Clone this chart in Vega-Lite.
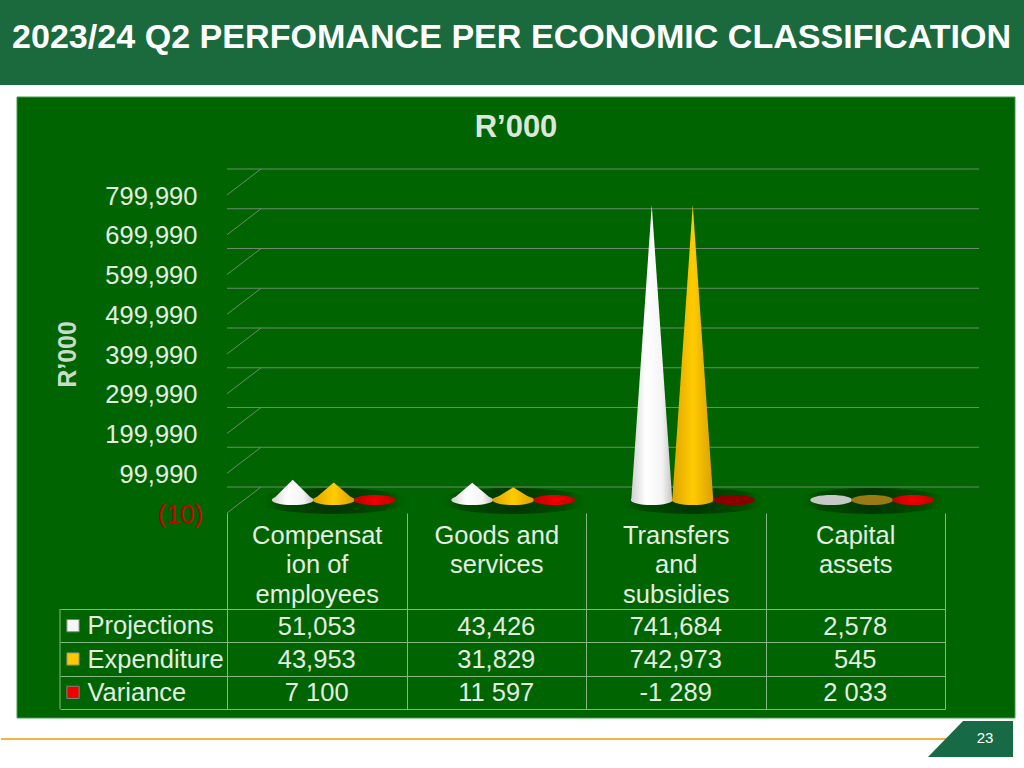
{
"$schema":"https://vega.github.io/schema/vega-lite/v6.json",
"padding":0,"autosize":{"type":"pad"},"background":"white","bounds":"flush","spacing":96,
"config":{"font":"Liberation Sans","view":{"stroke":null},"concat":{"spacing":96}},
"datasets":{
"ticks":[{"tick":-10},{"tick":99990},{"tick":199990},{"tick":299990},{"tick":399990},{"tick":499990},{"tick":599990},{"tick":699990},{"tick":799990}],
"cats":[{"category":"Compensation of employees"},{"category":"Goods and services"},{"category":"Transfers and subsidies"},{"category":"Capital assets"}],
"table":[
{"category":"Compensation of employees","series":"Projections","value":51053,"label":"51,053","slot":"2"},
{"category":"Compensation of employees","series":"Expenditure","value":43953,"label":"43,953","slot":"4"},
{"category":"Compensation of employees","series":"Variance","value":7100,"label":"7 100","slot":"6"},
{"category":"Goods and services","series":"Projections","value":43426,"label":"43,426","slot":"2"},
{"category":"Goods and services","series":"Expenditure","value":31829,"label":"31,829","slot":"4"},
{"category":"Goods and services","series":"Variance","value":11597,"label":"11 597","slot":"6"},
{"category":"Transfers and subsidies","series":"Projections","value":741684,"label":"741,684","slot":"2"},
{"category":"Transfers and subsidies","series":"Expenditure","value":742973,"label":"742,973","slot":"4"},
{"category":"Transfers and subsidies","series":"Variance","value":-1289,"label":"-1 289","slot":"6"},
{"category":"Capital assets","series":"Projections","value":2578,"label":"2,578","slot":"2"},
{"category":"Capital assets","series":"Expenditure","value":545,"label":"545","slot":"4"},
{"category":"Capital assets","series":"Variance","value":2033,"label":"2 033","slot":"6"}],
"cones":[
{"cone":"a","category":"Compensation of employees","series":"Projections","slot":"1","value":0},{"cone":"a","category":"Compensation of employees","series":"Projections","slot":"2","value":51053},{"cone":"a","category":"Compensation of employees","series":"Projections","slot":"3","value":0},
{"cone":"b","category":"Compensation of employees","series":"Expenditure","slot":"3","value":0},{"cone":"b","category":"Compensation of employees","series":"Expenditure","slot":"4","value":43953},{"cone":"b","category":"Compensation of employees","series":"Expenditure","slot":"5","value":0},
{"cone":"c","category":"Goods and services","series":"Projections","slot":"1","value":0},{"cone":"c","category":"Goods and services","series":"Projections","slot":"2","value":43426},{"cone":"c","category":"Goods and services","series":"Projections","slot":"3","value":0},
{"cone":"d","category":"Goods and services","series":"Expenditure","slot":"3","value":0},{"cone":"d","category":"Goods and services","series":"Expenditure","slot":"4","value":31829},{"cone":"d","category":"Goods and services","series":"Expenditure","slot":"5","value":0},
{"cone":"e","category":"Transfers and subsidies","series":"Projections","slot":"1","value":0},{"cone":"e","category":"Transfers and subsidies","series":"Projections","slot":"2","value":741684},{"cone":"e","category":"Transfers and subsidies","series":"Projections","slot":"3","value":0},
{"cone":"f","category":"Transfers and subsidies","series":"Expenditure","slot":"3","value":0},{"cone":"f","category":"Transfers and subsidies","series":"Expenditure","slot":"4","value":742973},{"cone":"f","category":"Transfers and subsidies","series":"Expenditure","slot":"5","value":0}]
},
"vconcat":[
{"width":718,"height":318,
"layer":[
{"data":{"values":[{}]},"mark":{"type":"rect","fill":"white"},"encoding":{"x":{"value":-227},"x2":{"value":797},"y":{"value":-195},"y2":{"value":573}}},
{"data":{"values":[{}]},"mark":{"type":"rect","fill":"#1b6a3d"},"encoding":{"x":{"value":-227},"x2":{"value":797},"y":{"value":-195},"y2":{"value":-110}}},
{"data":{"values":[{}]},"mark":{"type":"rect","fill":"#006400","stroke":"#3f9f4f","strokeWidth":1},"encoding":{"x":{"value":-210},"x2":{"value":788},"y":{"value":-98},"y2":{"value":523}}},
{"data":{"values":[{}]},"mark":{"type":"rule","stroke":"#f5b342","strokeWidth":2},"encoding":{"x":{"value":-226},"x2":{"value":720},"y":{"value":544},"y2":{"value":544}}},
{"data":{"values":[{}]},"mark":{"type":"point","filled":true,"fill":"#166b46","stroke":null,"opacity":1,"size":7225,"shape":"M-1,0.4235L-0.176,-0.4235L1,-0.4235L1,0.4235Z"},"encoding":{"x":{"value":743.5},"y":{"value":544}}},
{"data":{"values":[{"text":"23"}]},"mark":{"type":"text","color":"white","fontSize":15,"align":"center","baseline":"middle"},"encoding":{"x":{"value":758},"y":{"value":543},"text":{"field":"text"}}},
{"data":{"values":[{"text":"2023/24 Q2 PERFOMANCE PER ECONOMIC CLASSIFICATION"}]},"mark":{"type":"text","color":"white","fontSize":34.1,"fontWeight":"bold","align":"left","baseline":"middle"},"encoding":{"x":{"value":-215},"y":{"value":-157},"text":{"field":"text"}}},
{"data":{"values":[{"text":"R’000"}]},"mark":{"type":"text","color":"#dbe7db","fontSize":31,"fontWeight":"bold","align":"center","baseline":"middle"},"encoding":{"x":{"value":289},"y":{"value":-67},"text":{"field":"text"}}},
{"data":{"name":"ticks"},"mark":{"type":"rule","stroke":"#6f8a6f","strokeWidth":1,"xOffset":34,"yOffset":-26},
"encoding":{"y":{"field":"tick","type":"quantitative","scale":{"domain":[-10,799990],"nice":false,"zero":false},
"axis":{"values":[-10,99990,199990,299990,399990,499990,599990,699990,799990],"tickCount":9,"zindex":1,"grid":false,"domain":false,"ticks":false,"labelOverlap":false,"labelFontSize":25.5,"labelColor":"#e4eee2","labelPadding":30,"labelOffset":1,"labelExpr":"datum.value<0?'':format(datum.value,',')","title":"R’000","titleFontSize":25,"titleFontWeight":"bold","titleColor":"#c9dcc9","titlePadding":24}}}},
{"data":{"name":"ticks"},"transform":[{"filter":"datum.tick<0"}],"mark":{"type":"text","align":"right","baseline":"middle","fontSize":25.5,"color":"#c80000","dy":2,"clip":false},
"encoding":{"x":{"value":-24},"y":{"field":"tick","type":"quantitative"},"text":{"value":"(10)"}}},
{"data":{"name":"ticks"},"mark":{"type":"rule","stroke":"#6f8a6f","strokeWidth":1,"y2Offset":-26},
"encoding":{"x":{"value":0},"x2":{"value":34},"y":{"field":"tick","type":"quantitative"},"y2":{"field":"tick"}}},
{"data":{"name":"cats"},"mark":{"type":"point","filled":true,"stroke":null,"opacity":1,"size":23104,"shape":"M-1,0A1,0.17,0,1,0,1,0A1,0.17,0,1,0,-1,0Z","xOffset":17,"yOffset":-12,
"fill":{"gradient":"radial","stops":[{"offset":0,"color":"rgba(0,30,0,0.7)"},{"offset":0.7,"color":"rgba(0,45,0,0.45)"},{"offset":1,"color":"rgba(0,100,0,0)"}]}},
"encoding":{"x":{"field":"category","type":"nominal","sort":null,"scale":{"type":"band","domain":["Compensation of employees","Goods and services","Transfers and subsidies","Capital assets"],"paddingInner":0,"paddingOuter":0},
"axis":{"zindex":1,"title":null,"domain":false,"labelAngle":0,"labelFontSize":25.5,"labelColor":"#e4eee2","labelAlign":"center","labelBaseline":"top","tickBand":"extent","tickColor":"#86b886","tickSize":96,"labelPadding":-86,"labelLineHeight":29.5,"labelLimit":0,"labelOverlap":false,"labelFlush":false,
"labelExpr":"datum.label=='Compensation of employees'?['Compensat','ion of','employees']:datum.label=='Goods and services'?['Goods and','services']:datum.label=='Transfers and subsidies'?['Transfers','and','subsidies']:datum.label=='Capital assets'?['Capital','assets']:''"}},
"y":{"datum":0,"type":"quantitative"}}},
{"data":{"name":"table"},"mark":{"type":"point","filled":true,"stroke":null,"opacity":1,"size":1764,"shape":"M-1,0A1,0.24,0,1,0,1,0A1,0.24,0,1,0,-1,0Z","yOffset":-13},
"encoding":{"x":{"field":"category","type":"nominal"},"xOffset":{"field":"slot","type":"nominal","scale":{"type":"point","domain":["1","2","3","4","5","6","7"],"range":[45.25,168.25],"padding":0}},"y":{"datum":0,"type":"quantitative"},
"color":{"condition":[
{"test":"datum.series=='Variance'&&datum.value<0","value":"#8a0000"},
{"test":"datum.series=='Variance'","value":{"gradient":"radial","stops":[{"offset":0,"color":"#f00000"},{"offset":1,"color":"#c00000"}]}},
{"test":"datum.series=='Projections'&&datum.value<5000","value":"#c6c9c6"},
{"test":"datum.series=='Expenditure'&&datum.value<5000","value":"#9a7a12"},
{"test":"datum.series=='Projections'","value":{"gradient":"linear","x1":0,"x2":1,"y1":0,"y2":0,"stops":[{"offset":0,"color":"#d0d0d0"},{"offset":0.35,"color":"#ffffff"},{"offset":0.75,"color":"#f4f4f4"},{"offset":1,"color":"#c4c4c4"}]}}],
"value":{"gradient":"linear","x1":0,"x2":1,"y1":0,"y2":0,"stops":[{"offset":0,"color":"#e0a400"},{"offset":0.5,"color":"#ffcc00"},{"offset":1,"color":"#dca000"}]}}}},
{"data":{"name":"cones"},"transform":[{"filter":"datum.series=='Projections'"}],"mark":{"type":"area","line":false,"yOffset":-13,"y2Offset":-13,"color":{"gradient":"linear","x1":0,"x2":1,"y1":0,"y2":0,"stops":[{"offset":0,"color":"#d0d0d0"},{"offset":0.35,"color":"#ffffff"},{"offset":0.75,"color":"#f4f4f4"},{"offset":1,"color":"#c4c4c4"}]}},
"encoding":{"x":{"field":"category","type":"nominal"},"xOffset":{"field":"slot","type":"nominal"},"y":{"field":"value","type":"quantitative","stack":null},"y2":{"datum":0},"detail":{"field":"cone"}}},
{"data":{"name":"cones"},"transform":[{"filter":"datum.series=='Expenditure'"}],"mark":{"type":"area","line":false,"yOffset":-13,"y2Offset":-13,"color":{"gradient":"linear","x1":0,"x2":1,"y1":0,"y2":0,"stops":[{"offset":0,"color":"#e0a400"},{"offset":0.5,"color":"#ffcc00"},{"offset":1,"color":"#dca000"}]}},
"encoding":{"x":{"field":"category","type":"nominal"},"xOffset":{"field":"slot","type":"nominal"},"y":{"field":"value","type":"quantitative","stack":null},"y2":{"datum":0},"detail":{"field":"cone"}}}
]},
{"width":718,"height":100,"data":{"name":"table"},
"layer":[
{"data":{"values":[{}]},"mark":{"type":"rule","stroke":"#86b886","strokeWidth":1},"encoding":{"x":{"value":-167}}},
{"mark":{"type":"text","fontSize":25.5,"color":"#e4eee2","baseline":"middle","dy":1},
"encoding":{"x":{"field":"category","type":"nominal","scale":{"type":"band","domain":["Compensation of employees","Goods and services","Transfers and subsidies","Capital assets"],"paddingInner":0,"paddingOuter":0},"axis":{"title":null,"labels":false,"ticks":false,"domain":false,"grid":true,"gridColor":"#86b886","tickBand":"extent"}},
"y":{"field":"series","type":"nominal","scale":{"type":"band","domain":["Projections","Expenditure","Variance"],"paddingInner":0,"paddingOuter":0},"axis":{"title":null,"domain":false,"grid":true,"gridColor":"#86b886","tickColor":"#86b886","tickSize":167,"tickBand":"extent","labelAlign":"left","labelPadding":-27,"labelFontSize":25.5,"labelColor":"#e4eee2","labelLimit":0}},
"text":{"field":"label"}}},
{"data":{"values":[{"series":"Projections"},{"series":"Expenditure"},{"series":"Variance"}]},"mark":{"type":"point","filled":true,"shape":"square","size":150,"opacity":1,"strokeWidth":1,"stroke":"#7a8a7a"},
"encoding":{"x":{"value":-154},"y":{"field":"series","type":"nominal"},
"color":{"field":"series","type":"nominal","legend":null,"scale":{"domain":["Projections","Expenditure","Variance"],"range":["#f6f6f6","#ffc800","#ee0000"]}}}}
]}
]}
